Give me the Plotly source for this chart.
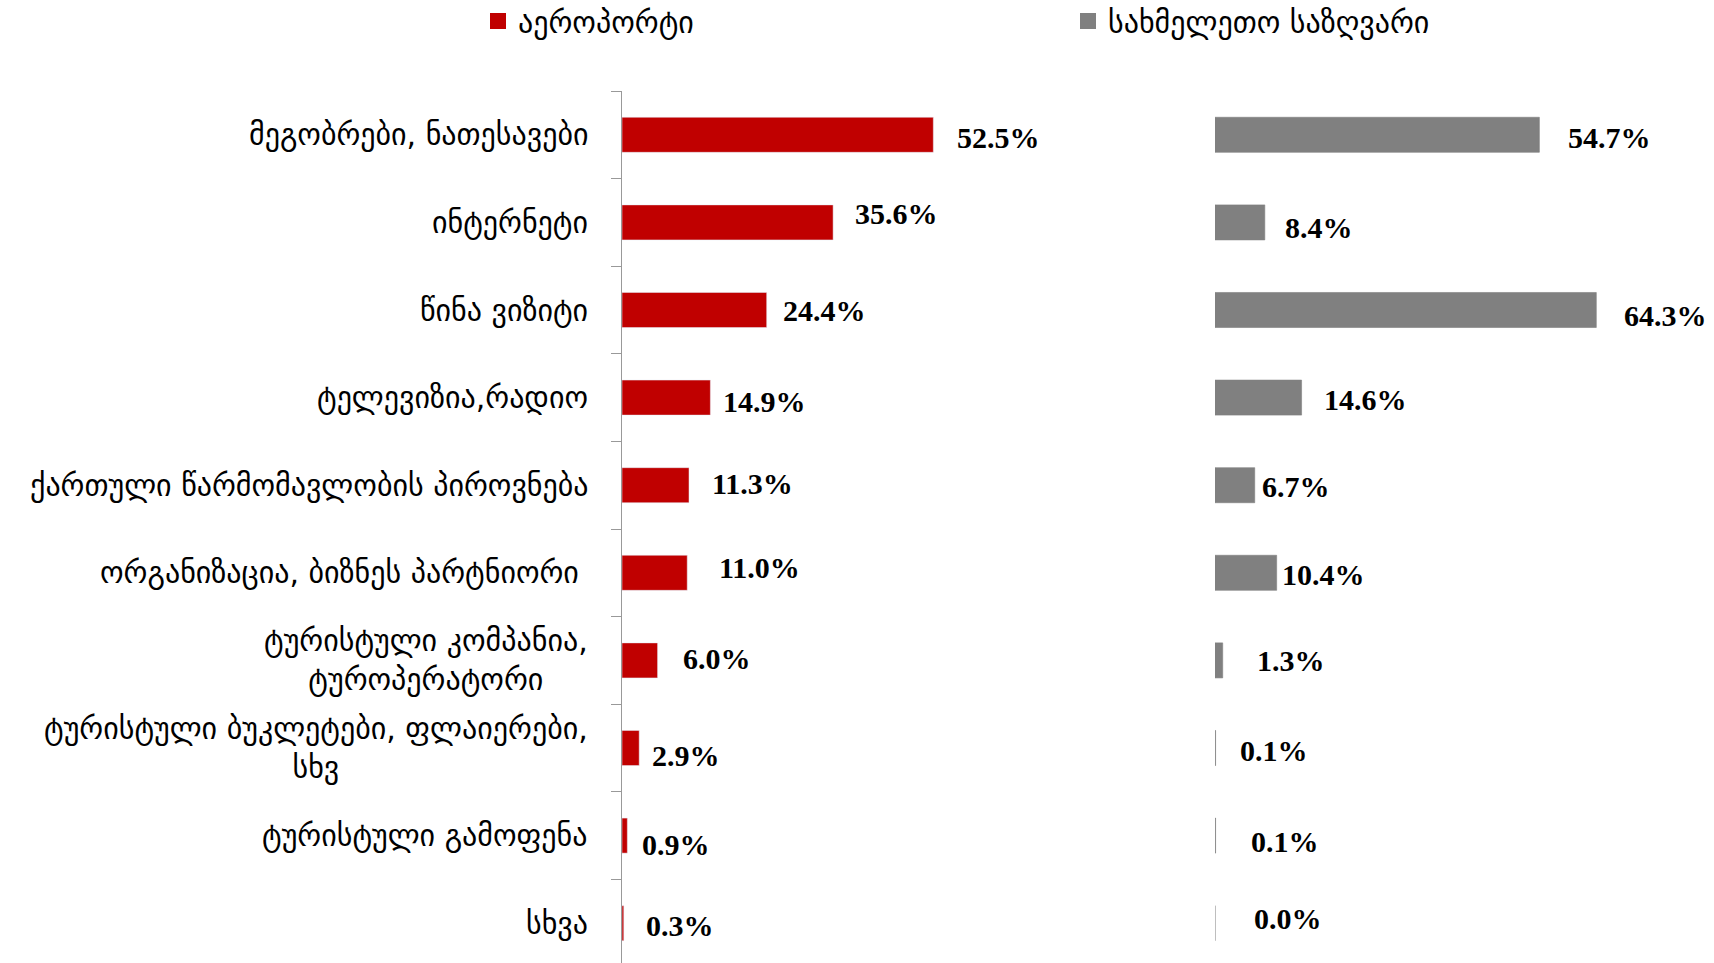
import plotly.graph_objects as go

# ---------------- data ----------------
categories = [
    "მეგობრები, ნათესავები",
    "ინტერნეტი",
    "წინა ვიზიტი",
    "ტელევიზია,რადიო",
    "ქართული წარმომავლობის პიროვნება",
    "ორგანიზაცია, ბიზნეს პარტნიორი\u00a0",
    "ტურისტული კომპანია,<br>ტუროპერატორი",
    "ტურისტული ბუკლეტები, ფლაიერები,<br>სხვ",
    "ტურისტული გამოფენა",
    "სხვა",
]
series_names = ["აეროპორტი", "სახმელეთო საზღვარი"]
airport = [52.5, 35.6, 24.4, 14.9, 11.3, 11.0, 6.0, 2.9, 0.9, 0.3]
land_border = [54.7, 8.4, 64.3, 14.6, 6.7, 10.4, 1.3, 0.1, 0.1, 0.0]

# ---------------- style ----------------
W, H = 1714, 963
RED = "#C00000"
GRAY = "#808080"
GEO_FONT = "DejaVu Sans"
GEO_SIZE = 30
NUM_FONT = "Liberation Serif"
PX_PER_PCT = 5.93
LEFT_X0, RIGHT_X0 = 622, 1215
PLOT_TOP = 91
CAT_STEP = 87.6

# manual label nudges (px): horizontal gap after bar end, vertical shift (+ = up)
airport_dx = [22, 20, 14, 11, 21, 30, 23, 11, 13, 20]
airport_dy = [-3, 9, 0, -4, 2, 5, 2, -7, -9, -2]
land_dx = [27, 18, 26, 20, 5, 3, 32, 22, 33, 37]
land_dy = [-3, -5, -5, -2, -1, -2, 0, -2, -6, 5]

fig = go.Figure()
fig.add_trace(go.Bar(
    y=categories, x=airport, orientation="h", name=series_names[0],
    marker=dict(color=RED), width=0.4, xaxis="x", yaxis="y",
    showlegend=False,
))
fig.add_trace(go.Bar(
    y=categories, x=land_border, orientation="h", name=series_names[1],
    marker=dict(color=GRAY, line=dict(color=GRAY, width=0.6)), width=0.4,
    xaxis="x2", yaxis="y2", showlegend=False,
))
# legend entries
for nm, col in zip(series_names, [RED, GRAY]):
    fig.add_trace(go.Scatter(
        x=[None], y=[None], mode="markers", name=nm,
        marker=dict(symbol="square", size=16, color=col),
        xaxis="x", yaxis="y", showlegend=True,
    ))

annotations = []
for i, c in enumerate(categories):
    annotations.append(dict(
        x=590 / W, xref="paper", y=c, yref="y", text=c,
        xanchor="right", yanchor="middle", align="center",
        showarrow=False, font=dict(family=GEO_FONT, size=GEO_SIZE, color="black"),
    ))
for vals, dxs, dys, xr in [(airport, airport_dx, airport_dy, "x"),
                           (land_border, land_dx, land_dy, "x2")]:
    for c, v, dx, dy in zip(categories, vals, dxs, dys):
        annotations.append(dict(
            x=v, xref=xr, y=c, yref="y", text=f"{v:.1f}%",
            xanchor="left", yanchor="middle", xshift=dx, yshift=dy,
            showarrow=False,
            font=dict(family=NUM_FONT, size=30, color="black", weight="bold"),
        ))

y_bottom = -0.5 + (H - PLOT_TOP) / CAT_STEP
ydom = [0, 1 - PLOT_TOP / H]

fig.update_layout(
    width=W, height=H,
    margin=dict(l=0, r=0, t=0, b=0, autoexpand=False),
    paper_bgcolor="white", plot_bgcolor="rgba(0,0,0,0)",
    barmode="overlay",
    xaxis=dict(domain=[LEFT_X0 / W, RIGHT_X0 / W],
               range=[0, (RIGHT_X0 - LEFT_X0) / PX_PER_PCT],
               visible=False, fixedrange=True),
    xaxis2=dict(domain=[RIGHT_X0 / W, 1],
                range=[0, (W - RIGHT_X0) / PX_PER_PCT],
                visible=False, anchor="y2", fixedrange=True),
    yaxis=dict(domain=ydom, type="category", categoryorder="array",
               categoryarray=categories, range=[y_bottom, -0.5],
               showline=True, linecolor="#999999", linewidth=1.3,
               ticks="outside", tickson="boundaries", ticklen=10,
               tickcolor="#999999", tickwidth=1.3,
               showticklabels=False, showgrid=False, zeroline=False,
               anchor="x", fixedrange=True),
    yaxis2=dict(domain=ydom, type="category", categoryorder="array",
                categoryarray=categories, range=[y_bottom, -0.5],
                showline=False, showticklabels=False, showgrid=False,
                zeroline=False, ticks="", anchor="x2", matches="y",
                fixedrange=True),
    legend=dict(orientation="h", x=478 / W, xanchor="left",
                y=1 + 5 / H, yanchor="top",
                entrywidth=545, entrywidthmode="pixels",
                font=dict(family=GEO_FONT, size=GEO_SIZE, color="black"),
                bgcolor="rgba(0,0,0,0)"),
    annotations=annotations,
)

fig.write_html("out.html", include_plotlyjs=True,
               post_script="document.body.style.margin='0';",
               config={"displayModeBar": False})
